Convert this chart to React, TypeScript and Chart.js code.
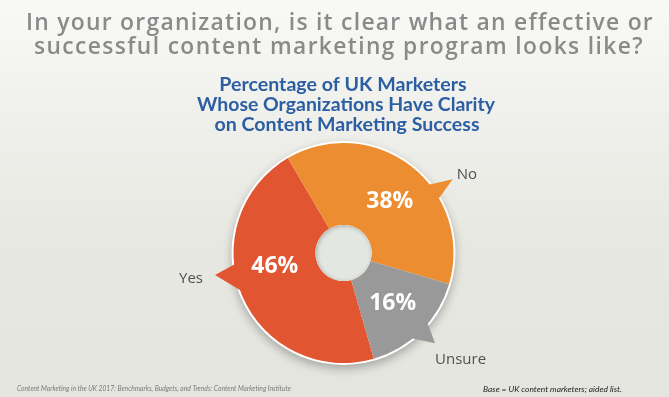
import React, { useEffect, useRef } from "react";
import { Chart, registerables } from "chart.js";

Chart.register(...registerables);

// ---- data ----
const categories = ["Yes", "No", "Unsure"];
const values = [46, 38, 16];
const sliceColors = ["#E15531", "#EC8D31", "#999999"];
const titleLines = [
  "In your organization, is it clear what an effective or",
  "successful content marketing program looks like?",
];
const subtitleLines = [
  "Percentage of UK Marketers",
  "Whose Organizations Have Clarity",
  "on Content Marketing Success",
];
const sourceNote =
  "Content Marketing in the UK 2017: Benchmarks, Budgets, and Trends: Content Marketing Institute";
const baseNote = "Base = UK content marketers; aided list.";

// ---- styling for callouts (angles clockwise from top, degrees) ----
const calloutStyle = [
  { a1: 248.4, a2: 264.7, tip: 260.3, dist: 1.185, labelShift: 13, dx: -12, dy: 8, align: "right" },
  { a1: 50.7, a2: 60.9, tip: 56, dist: 1.197, labelShift: 3.5, dx: 4, dy: 0, align: "left" },
  { a1: 129.1, a2: 142.3, tip: 134.6, dist: 1.169, labelShift: 0, dx: 0, dy: 21, align: "left" },
];

const polar = (cx: number, cy: number, r: number, deg: number) => {
  const t = (deg * Math.PI) / 180;
  return { x: cx + r * Math.sin(t), y: cy - r * Math.cos(t) };
};

const decorPlugin = {
  id: "decor",
  beforeDatasetsDraw(chart: any) {
    const arcs = chart.getDatasetMeta(0).data;
    if (!arcs.length) return;
    const { x, y, outerRadius } = arcs[0].getProps(["x", "y", "outerRadius"], true);
    const ctx = chart.ctx;
    ctx.save();
    ctx.shadowColor = "rgba(0,0,0,0.28)";
    ctx.shadowBlur = 10;
    ctx.shadowOffsetY = 4;
    ctx.fillStyle = "#ffffff";
    ctx.beginPath();
    ctx.arc(x, y, outerRadius + 2, 0, Math.PI * 2);
    ctx.fill();
    ctx.restore();
  },
  afterDatasetsDraw(chart: any) {
    const arcs = chart.getDatasetMeta(0).data;
    if (!arcs.length) return;
    const ctx = chart.ctx;
    const { x, y, outerRadius: R, innerRadius: r0 } = arcs[0].getProps(
      ["x", "y", "outerRadius", "innerRadius"],
      true
    );
    // tails
    arcs.forEach((arc: any, i: number) => {
      const c = calloutStyle[i];
      const p1 = polar(x, y, R - 3, c.a1);
      const tp = polar(x, y, R * c.dist, c.tip);
      const p2 = polar(x, y, R - 3, c.a2);
      ctx.save();
      ctx.fillStyle = sliceColors[i];
      ctx.beginPath();
      ctx.moveTo(p1.x, p1.y);
      ctx.lineTo(tp.x, tp.y);
      ctx.lineTo(p2.x, p2.y);
      ctx.closePath();
      ctx.fill();
      ctx.restore();
      // category label
      ctx.save();
      ctx.fillStyle = "#505050";
      ctx.font = '15px "Open Sans"';
      ctx.textAlign = c.align;
      ctx.textBaseline = "alphabetic";
      ctx.fillText(categories[i], tp.x + c.dx, tp.y + c.dy);
      ctx.restore();
    });
    // hole
    ctx.save();
    ctx.beginPath();
    ctx.arc(x, y, r0, 0, Math.PI * 2);
    ctx.fillStyle = "#e4e6e2";
    ctx.fill();
    ctx.clip();
    ctx.shadowColor = "rgba(0,0,0,0.25)";
    ctx.shadowBlur = 4;
    ctx.shadowOffsetX = 1;
    ctx.shadowOffsetY = 1;
    ctx.lineWidth = 6;
    ctx.strokeStyle = "#e4e6e2";
    ctx.beginPath();
    ctx.arc(x, y, r0 + 3, 0, Math.PI * 2);
    ctx.stroke();
    ctx.restore();
    // percentage labels
    arcs.forEach((arc: any, i: number) => {
      const p = arc.getProps(["startAngle", "endAngle"], true);
      const midDeg = (((p.startAngle + p.endAngle) / 2) * 180) / Math.PI + 90;
      const pos = polar(x, y, R * 0.635, midDeg + calloutStyle[i].labelShift);
      ctx.save();
      ctx.fillStyle = "#ffffff";
      ctx.font = 'bold 23px "Open Sans"';
      ctx.textAlign = "center";
      ctx.textBaseline = "middle";
      ctx.fillText(values[i] + "%", pos.x, pos.y + 1);
      ctx.restore();
    });
  },
  afterDraw(chart: any) {
    const ctx = chart.ctx;
    ctx.save();
    ctx.textAlign = "center";
    ctx.textBaseline = "alphabetic";
    ctx.fillStyle = "#8a8a8a";
    ctx.font = '600 23px "Open Sans"';
    (ctx as any).letterSpacing = "1.25px";
    ctx.fillText(titleLines[0], 340, 29.5, 628);
    (ctx as any).letterSpacing = "1.4px";
    ctx.fillText(titleLines[1], 339, 53.5, 610);
    (ctx as any).letterSpacing = "0px";
    ctx.fillStyle = "#2b5ea2";
    ctx.font = 'bold 19.6px "Lato"';
    ctx.fillText(subtitleLines[0], 343, 90.5, 250);
    ctx.fillText(subtitleLines[1], 346, 110.5, 298);
    ctx.fillText(subtitleLines[2], 347, 130.5, 268);
    ctx.textAlign = "left";
    ctx.fillStyle = "#7a7a7a";
    ctx.font = 'italic 7px "Lato"';
    ctx.fillText(sourceNote, 17, 391, 274);
    ctx.fillStyle = "#222222";
    ctx.font = 'italic 8.5px "Lato"';
    ctx.fillText(baseNote, 483, 392, 139);
    ctx.restore();
  },
};

export default function App() {
  const ref = useRef<HTMLCanvasElement | null>(null);
  useEffect(() => {
    if (!ref.current) return;
    const chart = new Chart(ref.current, {
      type: "doughnut",
      data: {
        labels: categories,
        datasets: [
          {
            data: values,
            backgroundColor: sliceColors,
            borderWidth: 0,
          },
        ],
      },
      options: {
        responsive: false,
        animation: false,
        rotation: 164,
        cutout: "25.5%",
        layout: { padding: { left: 233.5, right: 215.5, top: 143, bottom: 34 } },
        plugins: {
          legend: { display: false },
          tooltip: { enabled: false },
        },
      },
      plugins: [decorPlugin],
    });
    return () => chart.destroy();
  }, []);
  return (
    <div
      style={{
        position: "absolute",
        left: 0,
        top: 0,
        width: 669,
        height: 397,
        background: "linear-gradient(180deg, #f9f9f7 0%, #efefeb 30%, #e8e8e3 60%, #e5e5e0 100%)",
        overflow: "hidden",
      }}
    >
      <canvas ref={ref} width={669} height={397} style={{ display: "block", width: 669, height: 397 }} />
    </div>
  );
}
